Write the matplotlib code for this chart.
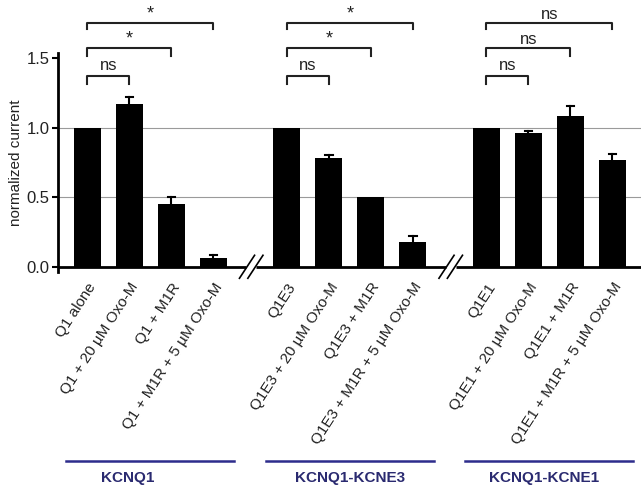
import numpy as np
import matplotlib.pyplot as plt
from matplotlib.transforms import blended_transform_factory

plt.rcParams['font.family'] = ['Liberation Sans', 'DejaVu Sans']

# data
labels = ['Q1 alone', 'Q1 + 20 µM Oxo-M', 'Q1 + M1R', 'Q1 + M1R + 5 µM Oxo-M',
          'Q1E3', 'Q1E3 + 20 µM Oxo-M', 'Q1E3 + M1R', 'Q1E3 + M1R + 5 µM Oxo-M',
          'Q1E1', 'Q1E1 + 20 µM Oxo-M', 'Q1E1 + M1R', 'Q1E1 + M1R + 5 µM Oxo-M']
values = [1.0, 1.17, 0.45, 0.065,
          1.0, 0.785, 0.50, 0.18,
          1.0, 0.96, 1.085, 0.77]
errors = [0.0, 0.05, 0.055, 0.025,
          0.0, 0.02, 0.0, 0.045,
          0.0, 0.02, 0.07, 0.04]
groups = ['KCNQ1', 'KCNQ1-KCNE3', 'KCNQ1-KCNE1']
sig_labels = [['ns', '*', '*'], ['ns', '*', '*'], ['ns', 'ns', 'ns']]

# x positions: 4 bars per group, gap between groups
x = np.array([g * 4.75 + i for g in range(3) for i in range(4)])

fig = plt.figure(figsize=(6.41, 4.90), dpi=100)
ax = fig.add_axes([58 / 641, 1 - 272 / 490, 583 / 641, (272 - 52.5) / 490])

ax.bar(x, values, width=0.64, color='black', zorder=2)
# only upper error bars
for xi, v, e in zip(x, values, errors):
    if e > 0:
        ax.plot([xi, xi], [v, v + e], color='black', lw=1.5, zorder=3)
        ax.plot([xi - 0.09, xi + 0.09], [v + e, v + e], color='black', lw=1.5, zorder=3)

ax.set_xlim(-0.70, 13.18)
ax.set_ylim(-0.035, 1.54)

# gridlines
for gy in [0.5, 1.0]:
    ax.axhline(gy, color='#9a9a9a', lw=0.8, zorder=0)

# broken x axis
breaks = [3.9, 8.65]
segs = [(-0.70, breaks[0] - 0.12), (breaks[0] + 0.12, breaks[1] - 0.12), (breaks[1] + 0.12, 13.18)]
for a, b in segs:
    ax.plot([a, b], [0, 0], color='black', lw=2, zorder=4, clip_on=False, solid_capstyle='butt')
for bx in breaks:
    for off in [-0.1, 0.1]:
        ax.plot([bx + off - 0.18, bx + off + 0.18], [-0.08, 0.085], color='black', lw=1.2,
                clip_on=False, zorder=4)

for s in ['top', 'right', 'bottom']:
    ax.spines[s].set_visible(False)
ax.spines['left'].set_linewidth(2)
ax.set_yticks([0.0, 0.5, 1.0, 1.5])
ax.set_yticklabels(['0.0', '0.5', '1.0', '1.5'], fontsize=12, color='#222222')
ax.tick_params(axis='y', direction='out', length=4, width=1.5, pad=2)
ax.set_ylabel('normalized current', fontsize=11, color='#222222', labelpad=3)

ax.set_xticks(x)
ax.set_xticklabels(labels, rotation=57, ha='right', va='top', rotation_mode='anchor',
                   fontsize=11, color='#222222')
ax.tick_params(axis='x', length=0, pad=6)

# significance brackets
levels = [(1.314, 1.371, 1.45), (1.515, 1.572, 1.635), (1.708, 1.752, 1.815)]
for g in range(3):
    x0 = x[g * 4]
    for k in range(3):
        x1 = x[g * 4 + k + 1]
        lo, hi, ty = levels[k]
        ax.plot([x0, x0, x1, x1], [lo, hi, hi, lo], color='#222222', lw=1.5, clip_on=False)
        lab = sig_labels[g][k]
        ax.text((x0 + x1) / 2, ty, lab, ha='center', va='center',
                fontsize=12 if lab == 'ns' else 13, color='#222222')

# group labels below
trans = blended_transform_factory(ax.transData, fig.transFigure)
centers = [x[g * 4:(g + 1) * 4].mean() for g in range(3)]
text_x = [0.96, centers[1], 10.87]
for g in range(3):
    ax.plot([centers[g] - 2, centers[g] + 2], [1 - 461 / 490] * 2, color='#2d2c8c', lw=1.8,
            transform=trans, clip_on=False)
    ax.text(text_x[g], 1 - 478 / 490, groups[g], transform=trans, ha='center', va='center',
            fontsize=11, fontweight='bold', color='#2a2a70')

fig.savefig('out.png', dpi=100)
